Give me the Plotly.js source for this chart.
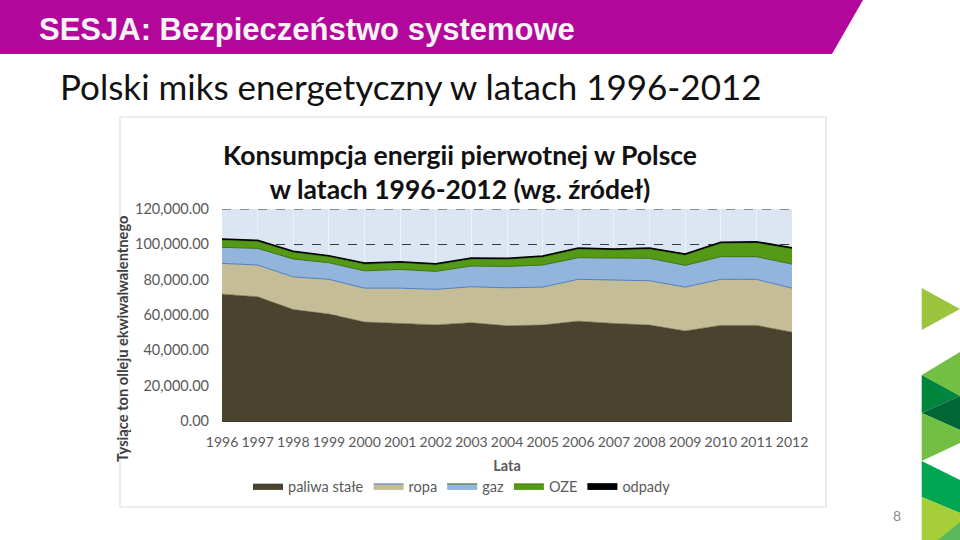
<!DOCTYPE html>
<html>
<head>
<meta charset="utf-8">
<script src="https://cdn.plot.ly/plotly-3.0.1.min.js"></script>
<style>
html,body{margin:0;padding:0;background:#fff;}
#chart{width:960px;height:540px;}
</style>
</head>
<body>
<div id="chart"></div>
<script>
// ---- data (tysiące ton oleju ekwiwalentnego) ----
const years = [1996,1997,1998,1999,2000,2001,2002,2003,2004,2005,2006,2007,2008,2009,2010,2011,2012];
const paliwaStale = [71800,70300,63100,60500,56000,55200,54400,55600,53900,54300,56500,55200,54300,51000,54100,54100,50300];
const ropa        = [17400,18000,18500,19700,19200,20000,20100,20400,21500,21500,23700,24400,25100,24800,26100,26100,24900];
const gaz         = [9100,9400,10100,9400,9800,10600,10200,11700,12100,12500,12200,12500,12700,12300,12800,12800,13600];
const oze         = [4100,4000,3800,3400,3800,3800,3700,4000,4000,4500,4900,4700,5200,5800,7600,7900,8700];
const odpady      = [600,600,600,600,600,600,600,600,600,600,600,600,600,600,600,600,600];
const seriesNames = ['paliwa stałe','ropa','gaz','OZE','odpady'];
const yTicks = [0,20000,40000,60000,80000,100000,120000];

// ---- layout geometry helpers (pixel -> paper) ----
const L = 222, R = 168, T = 209, B = 119, W = 960, H = 540;
const PW = W - L - R, PH = H - T - B;
const px = x => (x - L) / PW;
const py = y => (H - B - y) / PH;
const path = pts => 'M' + pts.map(p => px(p[0]).toFixed(5) + ',' + py(p[1]).toFixed(5)).join(' L') + ' Z';

const fills = ['#4a432e','#c4bd97','#93b4dd','#559a17','#000000'];
const lines = ['#4a432e','#4f81bd','#3a7510','#3a7510','#000000'];
const lw    = [0.5,1,1,1,1.5];
const vals  = [paliwaStale, ropa, gaz, oze, odpady];

const traces = vals.map((v,i) => ({
  type:'scatter', mode:'lines', x: years, y: v, name: seriesNames[i],
  stackgroup:'one', fillcolor: fills[i],
  line:{color: lines[i], width: lw[i]}, hoverinfo:'x+y+name'
}));

const poly = (pts, color) => ({type:'path', xref:'paper', yref:'paper', path: path(pts),
  fillcolor: color, line:{width:0}, layer:'above'});

const shapes = [
  // magenta banner
  poly([[0,0],[863,0],[832,54],[0,54]], '#b3079b'),
  // chart frame
  {type:'rect', xref:'paper', yref:'paper', x0:px(120), x1:px(826), y0:py(117), y1:py(507),
   line:{color:'#d9d9d9', width:1}, fillcolor:'rgba(0,0,0,0)', layer:'below'},
  // top dashed gridline at the axis maximum
  {type:'line', xref:'paper', yref:'y', x0:0, x1:1, y0:yTicks[yTicks.length-1], y1:yTicks[yTicks.length-1],
   line:{color:'#3a3a3a', width:1, dash:'dash'}, layer:'above'},
  // right-side green decorations
  poly([[921.7,288],[921.7,330],[960,309]], '#9cc43c'),
  poly([[921.7,375],[960,352],[960,396]], '#72bf44'),
  poly([[921.7,375],[960,396],[921.7,413]], '#00853f'),
  poly([[921.7,413],[960,396],[960,430]], '#006633'),
  poly([[921.7,413],[960,430],[960,443],[921.7,461]], '#72bf44'),
  poly([[921.7,461],[960,480],[960,513],[921.7,497]], '#00a651'),
  poly([[921.7,497],[960,513],[960,540],[921.7,540]], '#a6ce39'),
  poly([[938,540],[960,522],[960,540]], '#5cb85c')
];

const annotations = [
  {text:'SESJA: Bezpieczeństwo systemowe', xref:'paper', yref:'paper', x:px(37), y:py(29),
   xanchor:'left', yanchor:'middle', showarrow:false,
   font:{family:'Liberation Sans, Arial, sans-serif', size:31, color:'#f4f4f4', weight:'bold'}},
  {text:'Polski miks energetyczny w latach 1996-2012', xref:'paper', yref:'paper', x:px(58), y:py(86),
   xanchor:'left', yanchor:'middle', showarrow:false,
   font:{family:'Lato, sans-serif', size:35, color:'#111111'}},
  {text:'<b>Tysiące ton olleju ekwiwalwalentnego</b>', xref:'paper', yref:'paper', x:px(122), y:py(339),
   xanchor:'center', yanchor:'middle', textangle:-90, showarrow:false,
   font:{family:'Lato, sans-serif', size:14.7, color:'#404040'}},
  {text:'8', xref:'paper', yref:'paper', x:px(897), y:py(515), xanchor:'center', yanchor:'middle',
   showarrow:false, font:{family:'Lato, sans-serif', size:14, color:'#8c8c8c'}}
];

const layout = {
  width: W, height: H, autosize:false,
  margin:{l:L, r:R, t:T, b:B, pad:0},
  paper_bgcolor:'#ffffff', plot_bgcolor:'#dce6f2',
  showlegend:true,
  title:{text:'<b>Konsumpcja energii pierwotnej w Polsce<br>w latach 1996-2012 (wg. źródeł)</b>',
    x:px(460), xref:'paper', xanchor:'center', y:1-165/H, yanchor:'middle',
    font:{family:'Lato, sans-serif', size:26.5, color:'#111111'}},
  xaxis:{range:[1996,2012], tickmode:'array', tickvals: years, ticktext: years.map(String),
    tickangle:0, showgrid:true, gridcolor:'rgba(255,255,255,0.45)', gridwidth:1,
    zeroline:false, showline:true, linecolor:'#3a3a3a', linewidth:1, ticks:'', ticklabelstandoff:8,
    tickfont:{family:'Lato, sans-serif', size:14, color:'#595959'},
    title:{text:'<b>Lata</b>', standoff:12, font:{family:'Lato, sans-serif', size:14.5, color:'#595959'}}},
  yaxis:{range:[0,120000], tickmode:'array', tickvals: yTicks, tickformat:',.2f',
    showgrid:true, gridcolor:'#3a3a3a', griddash:'dash', gridwidth:1, zeroline:false,
    showline:false, ticks:'', ticklabelstandoff:12,
    tickfont:{family:'Lato, sans-serif', size:14.5, color:'#595959'}},
  legend:{orientation:'h', x:px(462), xanchor:'center', y:py(486), yanchor:'middle',
    traceorder:'normal', font:{family:'Lato, sans-serif', size:14.5, color:'#595959'},
    itemwidth:30, bgcolor:'rgba(0,0,0,0)'},
  shapes: shapes,
  annotations: annotations
};

Plotly.newPlot('chart', traces, layout, {displayModeBar:false, staticPlot:true});
</script>
</body>
</html>
